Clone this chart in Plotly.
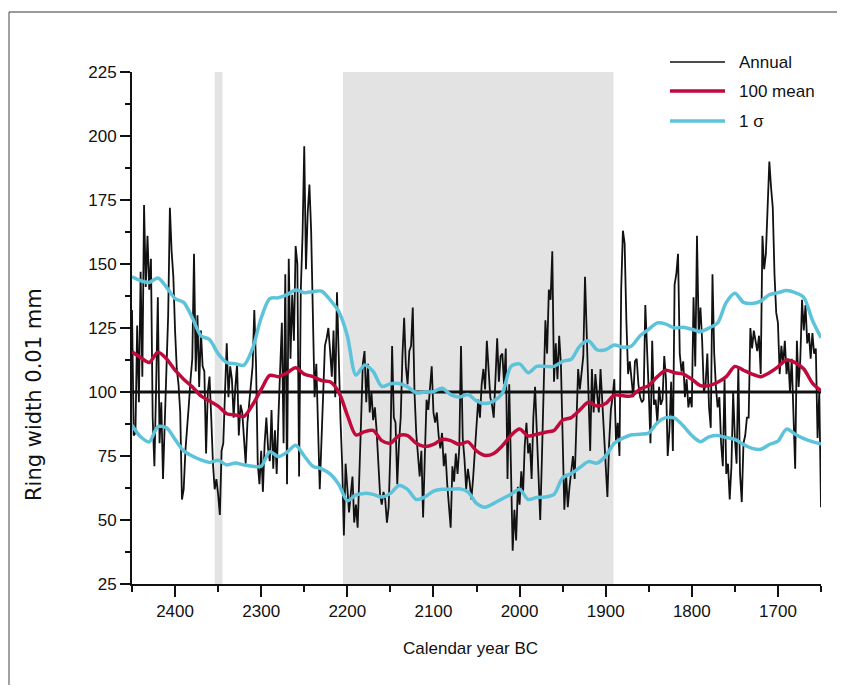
import plotly.graph_objects as go

# ---------------- data ----------------
# 100-year running mean and +/- 1 sigma band, read every 10 years (2450 BC -> 1650 BC)
smooth_years = list(range(2450, 1649, -10))
mean_100 = [
    115.7, 113.5, 111.5, 115.5, 113, 108.5, 105, 102, 98.5, 96.5,
    94.5, 91.5, 91, 90.5, 95, 101, 106.5, 106, 107.5, 109.5,
    107, 106, 104.5, 104, 100, 91, 83.2, 84.5, 85, 81,
    80, 83, 83, 80, 78.7, 79.5, 81.5, 81, 79.5, 80.5,
    77, 75.2, 76, 79, 83, 85.5, 82.8, 83.5, 84.3, 85,
    89, 90, 93, 96, 94.5, 95.5, 98.8, 98.5, 98.5, 101.2,
    102.5, 106, 108.5, 107.5, 107, 105, 102.5, 102.5, 103.8, 106,
    110, 108.5, 107, 106, 107.5, 109.8, 112.5, 111.5, 109, 103.5,
    100.5,
]
sigma_upper = [
    145, 143.5, 142.8, 144.5, 141, 136.5, 135, 129, 122, 120.5,
    115, 111.5, 111, 110.5, 117, 129, 136.5, 136.8, 138, 139.8,
    138.8, 139.2, 139.4, 136, 131.5, 122, 106.6, 110.5, 108, 102.2,
    103.2, 103.3, 102, 99.7, 100, 100.1, 101.5, 99, 98, 99,
    96.5, 95.5, 96.5, 99.5, 110, 111, 107.5, 110, 110, 110,
    112, 112.8, 118, 120, 116.5, 116.5, 118.4, 117.5, 118, 122,
    124.5, 127, 126.5, 125, 125.3, 124.5, 123.6, 125, 127, 135,
    138.6, 135, 134.6, 135.5, 138, 138.8, 139.6, 138.8, 137, 128,
    121.2,
]
sigma_lower = [
    87, 82.5, 80.5, 86.5, 86, 81.5, 77, 75, 73.5, 72.5,
    73.3, 71.5, 72.3, 71.5, 71, 71, 76.7, 74.8, 76.5, 79.2,
    75, 71, 70, 68, 64, 57.5, 59.8, 60.4, 60, 59,
    60.4, 63.5, 62, 58, 59, 61.3, 62, 62, 62.2, 61,
    56.5, 55, 56.5, 58.3, 60, 62, 58, 58.8, 59, 60,
    66.5, 68.2, 70.5, 72.8, 72.2, 75, 80, 82, 83.3, 83.5,
    84, 88, 90, 89.8, 86.8, 83, 80.6, 82.5, 83, 82.2,
    81.5, 79.5, 78, 77.6, 79.5, 80.8, 85.5, 83.5, 81.8, 80.6,
    79.7,
]

# annual ring widths, read every 2 years; each segment gives its first year
annual_step = 2
annual_a_start = 2450
annual_a = [
    132, 83, 84, 126, 96,
    147, 106, 173, 141, 161,
    140, 152, 90, 71, 102,
    137, 80, 96, 66, 92,
    109, 130, 172, 155, 145,
    124, 109, 103, 92, 58,
    62, 77, 88, 95, 105,
    113, 154, 108, 130, 102,
    124, 110, 108, 76, 100,
    106, 90, 72, 62, 66,
    60, 52, 77, 80, 100,
    119, 98, 110, 105, 90,
    102, 111, 83, 95, 92,
    80, 72, 88, 95, 105,
    110,
]
annual_b_start = 2308
annual_b = [
    132, 111, 72, 64, 77,
    61, 80, 90, 78, 73,
    93, 70, 85, 68, 90,
    111, 127, 80, 146, 64,
    152, 113, 138, 120, 157,
    150, 67, 140, 161, 196,
    148, 170, 181, 163, 131,
    98, 111, 90, 62, 81,
    102, 118, 121, 125, 116,
    106, 124, 98, 139, 110,
    90, 72, 44, 72, 64,
    53, 60, 67, 49, 56,
    47, 73, 89, 111, 116,
    96, 111, 92, 100, 89,
    94, 85, 72, 60, 56,
]
annual_c_start = 2158
annual_c = [
    61, 58, 49, 55, 77,
    118, 90, 88, 64, 80,
    90, 114, 129, 110, 103,
    116, 118, 133, 100, 84,
    74, 67, 77, 51, 75,
    97, 93, 101, 110, 92,
    88, 92, 83, 78, 84,
    71, 76, 64, 54, 47,
    71, 65, 76, 68, 78,
    118, 82, 74, 62, 70,
    65, 58, 66, 76, 88,
    97, 90, 103, 109, 101,
    120, 110, 98, 95, 90,
    105, 121, 104, 114, 115,
    103, 117, 66, 103, 70,
    38, 54, 42,
]
annual_d_start = 2002
annual_d = [
    63, 56, 69, 60, 79,
    88, 76, 80, 66, 90,
    102, 82, 70, 50, 75,
    98, 128, 115, 140, 136,
    155, 104, 119, 105, 122,
    111, 80, 54, 68, 55,
    63, 70, 75, 66, 90,
    109, 101, 109, 114, 145,
    125, 103, 77, 109, 92,
    107, 99, 92, 109, 96,
    85, 70, 59, 80, 93,
    98, 105, 80, 88, 75,
    140, 163, 158, 128, 107,
    112, 105, 98, 112, 113,
    103, 98, 96, 97, 134,
    120, 100,
]
annual_e_start = 1848
annual_e = [
    80, 120, 95, 97, 88,
    102, 95, 97, 114, 105,
    75, 85, 104, 77, 142,
    146, 154, 115, 108, 112,
    98, 105, 94, 98, 94,
    137, 110, 161, 123, 133,
    120, 100, 103, 115, 94,
    86, 146, 115, 102, 94,
    98, 80, 71, 105, 68,
    72, 58, 71, 100, 82,
    72, 110, 68, 57, 80,
    83, 90, 90, 125, 117,
    124, 120, 116, 122, 107,
    161, 148, 154, 176, 190,
    180, 172, 146, 131, 127,
    107, 118, 111, 120, 107,
    113, 100, 113, 93, 70,
    120, 102, 113, 136, 124,
    134, 119, 123, 113, 123,
    115, 117, 82, 100, 55,
]

reference_level = 100
shaded_periods = [(2354, 2345), (2205, 1891)]
x_range = [2450, 1650]
y_range = [25, 225]
x_tick_vals = [2400, 2300, 2200, 2100, 2000, 1900, 1800, 1700]
y_tick_vals = [25, 50, 75, 100, 125, 150, 175, 200, 225]

legend_labels = ["Annual", "100 mean", "1 \u03c3"]

# ---------------- build ----------------
annual_years, annual_values = [], []
for start, seg in [(annual_a_start, annual_a), (annual_b_start, annual_b),
                   (annual_c_start, annual_c), (annual_d_start, annual_d),
                   (annual_e_start, annual_e)]:
    for i, v in enumerate(seg):
        annual_years.append(start - annual_step * i)
        annual_values.append(v)

BLACK = "#111111"
RED = "#C00A3C"
BLUE = "#5CC3DB"
SHADE = "#E3E3E3"
FONT = "Liberation Sans, Arial, sans-serif"

fig = go.Figure()

fig.add_trace(go.Scatter(x=annual_years, y=annual_values, mode="lines",
                         line=dict(color=BLACK, width=1.8), name=legend_labels[0],
                         showlegend=False))
fig.add_trace(go.Scatter(x=x_range, y=[reference_level, reference_level], mode="lines",
                         line=dict(color=BLACK, width=3), showlegend=False))
fig.add_trace(go.Scatter(x=smooth_years, y=mean_100, mode="lines",
                         line=dict(color=RED, width=3.5, shape="spline", smoothing=0.8),
                         name=legend_labels[1], showlegend=False))
fig.add_trace(go.Scatter(x=smooth_years, y=sigma_upper, mode="lines",
                         line=dict(color=BLUE, width=3.5, shape="spline", smoothing=0.8),
                         name=legend_labels[2], showlegend=False))
fig.add_trace(go.Scatter(x=smooth_years, y=sigma_lower, mode="lines",
                         line=dict(color=BLUE, width=3.5, shape="spline", smoothing=0.8),
                         showlegend=False))

shapes = []
for a, b in shaded_periods:
    shapes.append(dict(type="rect", xref="x", yref="paper", x0=a, x1=b, y0=0, y1=1,
                       fillcolor=SHADE, line=dict(width=0), layer="below"))

# The page body has an 8px margin, so the figure is made smaller (no overflow)
# and page coordinates below are converted with that offset.
OFF = 8
W, H = 845 - 2 * OFF, 693 - 2 * OFF
L, T = 132 - OFF, 72 - OFF
pw, ph = 689, 512
R, B = W - L - pw, H - T - ph
def px(x):
    return (x - OFF - L) / pw
def py(y):
    return (T + ph - (y - OFF)) / ph

# page frame (left and top edges visible)
shapes.append(dict(type="line", xref="paper", yref="paper", x0=px(9), x1=px(845),
                   y0=py(12), y1=py(12), line=dict(color="#7a7a7a", width=1.5)))
shapes.append(dict(type="line", xref="paper", yref="paper", x0=px(9), x1=px(9),
                   y0=py(12), y1=py(700), line=dict(color="#444444", width=1)))

# legend drawn by hand
legend_colors = [BLACK, RED, BLUE]
legend_widths = [1.5, 3.5, 3.5]
legend_rows = [62, 91, 121]
annotations = []
for lab, col, wd, ry in zip(legend_labels, legend_colors, legend_widths, legend_rows):
    shapes.append(dict(type="line", xref="paper", yref="paper", x0=px(670), x1=px(725),
                       y0=py(ry), y1=py(ry), line=dict(color=col, width=wd)))
    annotations.append(dict(xref="paper", yref="paper", x=px(737), y=py(ry), text=lab,
                            showarrow=False, xanchor="left", yanchor="middle",
                            font=dict(family=FONT, size=17, color=BLACK)))

annotations.append(dict(xref="paper", yref="paper", x=px(470), y=py(648),
                        text="Calendar year BC", showarrow=False,
                        xanchor="center", yanchor="middle",
                        font=dict(family=FONT, size=17, color=BLACK)))
annotations.append(dict(xref="paper", yref="paper", x=px(34), y=py(395),
                        text="Ring width 0.01 mm", showarrow=False, textangle=-90,
                        xanchor="center", yanchor="middle",
                        font=dict(family="DejaVu Sans, sans-serif", size=21, color=BLACK)))

fig.update_layout(
    width=W, height=H,
    margin=dict(l=L, r=R, t=T, b=B),
    paper_bgcolor="white", plot_bgcolor="white",
    showlegend=False,
    shapes=shapes, annotations=annotations,
    font=dict(family=FONT, size=17, color=BLACK),
)
fig.update_xaxes(range=x_range, tickmode="array", tickvals=x_tick_vals,
                 showgrid=False, zeroline=False, showline=True, linecolor=BLACK,
                 linewidth=2, ticks="outside", ticklen=11, tickwidth=2, tickcolor=BLACK,
                 minor=dict(ticks="outside", ticklen=6, tickwidth=2, tickcolor=BLACK,
                            dtick=50, tick0=1650, showgrid=False),
                 tickfont=dict(family=FONT, size=17, color=BLACK))
fig.update_yaxes(range=y_range, tickmode="array", tickvals=y_tick_vals,
                 showgrid=False, zeroline=False, showline=True, linecolor=BLACK,
                 linewidth=2, ticks="outside", ticklen=10, tickwidth=2, tickcolor=BLACK,
                 minor=dict(ticks="outside", ticklen=5, tickwidth=2, tickcolor=BLACK,
                            dtick=12.5, tick0=25, showgrid=False),
                 tickfont=dict(family=FONT, size=17, color=BLACK))

fig.write_html("out.html")
